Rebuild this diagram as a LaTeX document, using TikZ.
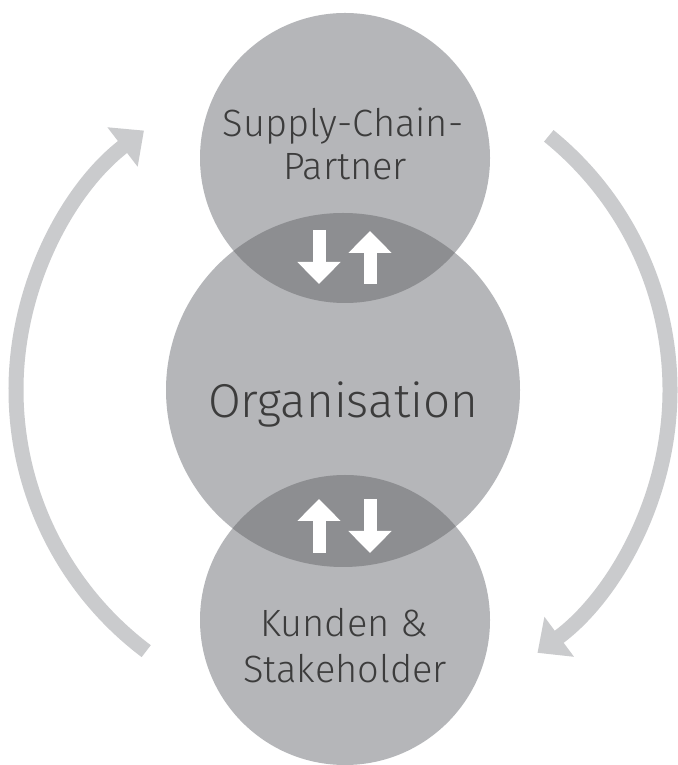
\documentclass[tikz,border=0pt]{standalone}
\usepackage{fontspec}
\setmainfont{Fira Sans Light}
\usetikzlibrary{arrows.meta}
\definecolor{circfill}{HTML}{B5B6B9}
\definecolor{lensfill}{HTML}{8D8E91}
\definecolor{arcgray}{HTML}{CACBCD}
\definecolor{txtgray}{HTML}{3C3C3C}
\tikzset{
  circ/.style={fill=circfill},
  lbl/.style={text=txtgray, font=\fontsize{38pt}{43pt}\selectfont, anchor=base, inner sep=0pt},
  biglbl/.style={text=txtgray, font=\fontsize{47.5pt}{56pt}\selectfont, anchor=base, inner sep=0pt},
  cyclearrow/.style={draw=arcgray, line width=15pt, -{Triangle[length=27pt,width=48pt]}},
  flowarrow/.style={draw=white, line width=13pt, -{Triangle[length=22pt,width=42pt]}}
}
\begin{document}
\begin{tikzpicture}[x=1pt,y=1pt]
\path[use as bounding box, fill=white] (0,0) rectangle (677,765);
% circle centres
\coordinate (T) at (345,607);
\coordinate (M) at (343,375);
\coordinate (B) at (345,145);
% circles
\fill[circ] (T) circle[radius=145];
\fill[circ] (B) circle[radius=145];
\fill[circ] (M) circle[radius=177];
% overlaps
\begin{scope}
  \clip (M) circle[radius=177];
  \fill[lensfill] (T) circle[radius=145];
  \fill[lensfill] (B) circle[radius=145];
\end{scope}
% cycle arrows
\draw[cyclearrow] ([shift={(233:327)}]M) arc[start angle=233,end angle=127.5,radius=327];
\draw[cyclearrow] ([shift={(51:327)}]M) arc[start angle=51,end angle=-53.5,radius=327];
% flow arrows
\coordinate (a1s) at (319,535); \coordinate (a1e) at (319,481);
\coordinate (a2s) at (370,481); \coordinate (a2e) at (370,534);
\coordinate (a3s) at (319,212); \coordinate (a3e) at (319,266);
\coordinate (a4s) at (370,266); \coordinate (a4e) at (370,212);
\draw[flowarrow] (a1s) -- (a1e);
\draw[flowarrow] (a2s) -- (a2e);
\draw[flowarrow] (a3s) -- (a3e);
\draw[flowarrow] (a4s) -- (a4e);
% labels
\node[lbl] (sc) at (343,628) {Supply-Chain-};
\node[lbl] (pa) at (345,585) {Partner};
\node[biglbl] (org) at (343,347) {Organisation};
\node[lbl] (ku) at (344,128) {Kunden \&};
\node[lbl] (st) at (345,82) {Stakeholder};
\end{tikzpicture}
\end{document}
